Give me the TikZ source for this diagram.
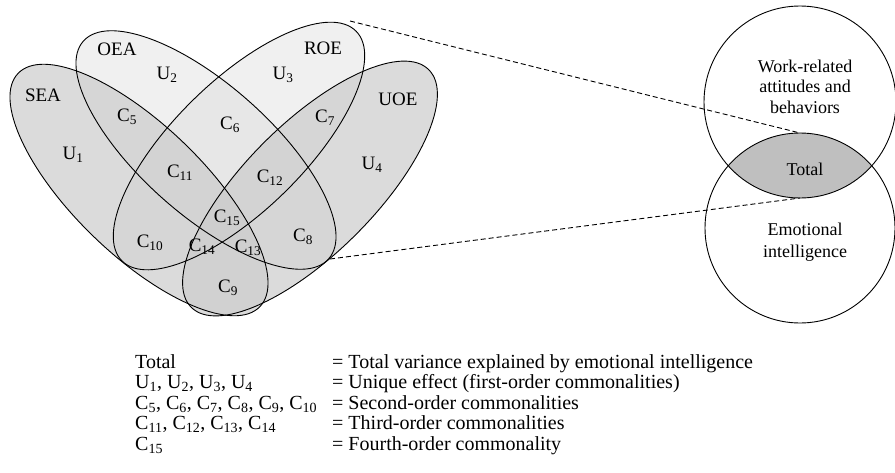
\documentclass[tikz,border=0pt]{standalone}
\usepackage{fontspec}
\setmainfont{Liberation Serif}
\newcommand{\sbs}[1]{\textsubscript{#1}}
\begin{document}
\begin{tikzpicture}[x=1pt,y=-1pt]
\tikzset{
  lab/.style={font=\fontsize{19}{21}\selectfont, inner sep=0pt},
  circtxt/.style={font=\fontsize{18}{20}\selectfont, inner sep=0pt, anchor=base},
  leg/.style={font=\fontsize{20}{21}\selectfont, inner sep=0pt, anchor=base west},
  outline/.style={draw=black, line width=0.9pt},
  darkfill/.style={fill=black!20, fill opacity=0.7},
  lightfill/.style={fill=black!15, fill opacity=0.4},
  guide/.style={draw=black, line width=0.9pt, dash pattern=on 5pt off 3pt},
  lensfill/.style={fill=black!25}
}
\useasboundingbox (0,0) rectangle (895,472);
% ellipse centres
\coordinate (sea) at (139,190);
\coordinate (oea) at (206,150);
\coordinate (roe) at (239,146);
\coordinate (uoe) at (310,188.5);
% fills
\fill[lightfill, rotate around={-41.6:(oea)}] (oea) ellipse [x radius=164pt, y radius=65pt];
\fill[lightfill, rotate around={44.4:(roe)}] (roe) ellipse [x radius=164pt, y radius=65pt];
\fill[darkfill, rotate around={-44:(sea)}] (sea) ellipse [x radius=168pt, y radius=65pt];
\fill[darkfill, rotate around={45:(uoe)}] (uoe) ellipse [x radius=168pt, y radius=65pt];
% outlines
\draw[outline, rotate around={-44:(sea)}] (sea) ellipse [x radius=168pt, y radius=65pt];
\draw[outline, rotate around={45:(uoe)}] (uoe) ellipse [x radius=168pt, y radius=65pt];
\draw[outline, rotate around={-41.6:(oea)}] (oea) ellipse [x radius=164pt, y radius=65pt];
\draw[outline, rotate around={44.4:(roe)}] (roe) ellipse [x radius=164pt, y radius=65pt];
% venn labels
\node[lab] (lsea) at (43,95) {SEA};
\node[lab] (loea) at (117,49) {OEA};
\node[lab] (lroe) at (323,48) {ROE};
\node[lab] (luoe) at (398,99) {UOE};
\node[lab] (u1) at (73,155) {U\sbs{1}};
\node[lab] (u2) at (167,75) {U\sbs{2}};
\node[lab] (u3) at (283,75) {U\sbs{3}};
\node[lab] (u4) at (372,165) {U\sbs{4}};
\node[lab] (c5) at (127,117) {C\sbs{5}};
\node[lab] (c6) at (230,125) {C\sbs{6}};
\node[lab] (c7) at (325,118) {C\sbs{7}};
\node[lab] (c8) at (303,237) {C\sbs{8}};
\node[lab] (c9) at (228,288) {C\sbs{9}};
\node[lab] (c10) at (150,243) {C\sbs{10}};
\node[lab] (c11) at (180,173) {C\sbs{11}};
\node[lab] (c12) at (270,178) {C\sbs{12}};
\node[lab] (c13) at (248,248) {C\sbs{13}};
\node[lab] (c14) at (202,247) {C\sbs{14}};
\node[lab] (c15) at (227,218) {C\sbs{15}};
% right circles
\coordinate (up) at (800,102);
\coordinate (lo) at (800,228);
\begin{scope}
  \clip (up) circle [radius=96pt];
  \fill[lensfill] (lo) circle [radius=95pt];
\end{scope}
\draw[outline] (up) circle [radius=96pt];
\draw[outline] (lo) circle [radius=95pt];
\coordinate (lenstop) at (800,133);
\coordinate (lensbot) at (800,198);
\coordinate (roetip) at (350,21);
\coordinate (oeatip) at (330,259);
\draw[guide] (roetip) -- (lenstop);
\draw[guide] (oeatip) -- (lensbot);
\node[circtxt] (w1) at (805,72) {Work-related};
\node[circtxt] (w2) at (805,92.5) {attitudes and};
\node[circtxt] (w3) at (805,113) {behaviors};
\node[circtxt] (tot) at (805,175) {Total};
\node[circtxt] (e1) at (805,235) {Emotional};
\node[circtxt] (e2) at (805,257) {intelligence};
% legend
\node[leg] (k1) at (135,368) {Total};
\node[leg] (k2) at (135,388.5) {U\sbs{1}, U\sbs{2}, U\sbs{3}, U\sbs{4}};
\node[leg] (k3) at (135,409) {C\sbs{5}, C\sbs{6}, C\sbs{7}, C\sbs{8}, C\sbs{9}, C\sbs{10}};
\node[leg] (k4) at (135,429.5) {C\sbs{11}, C\sbs{12}, C\sbs{13}, C\sbs{14}};
\node[leg] (k5) at (135,450) {C\sbs{15}};
\node[leg] (d1) at (332,368) {= Total variance explained by emotional intelligence};
\node[leg] (d2) at (332,388.5) {= Unique effect (first-order commonalities)};
\node[leg] (d3) at (332,409) {= Second-order commonalities};
\node[leg] (d4) at (332,429.5) {= Third-order commonalities};
\node[leg] (d5) at (332,450) {= Fourth-order commonality};
\end{tikzpicture}
\end{document}
